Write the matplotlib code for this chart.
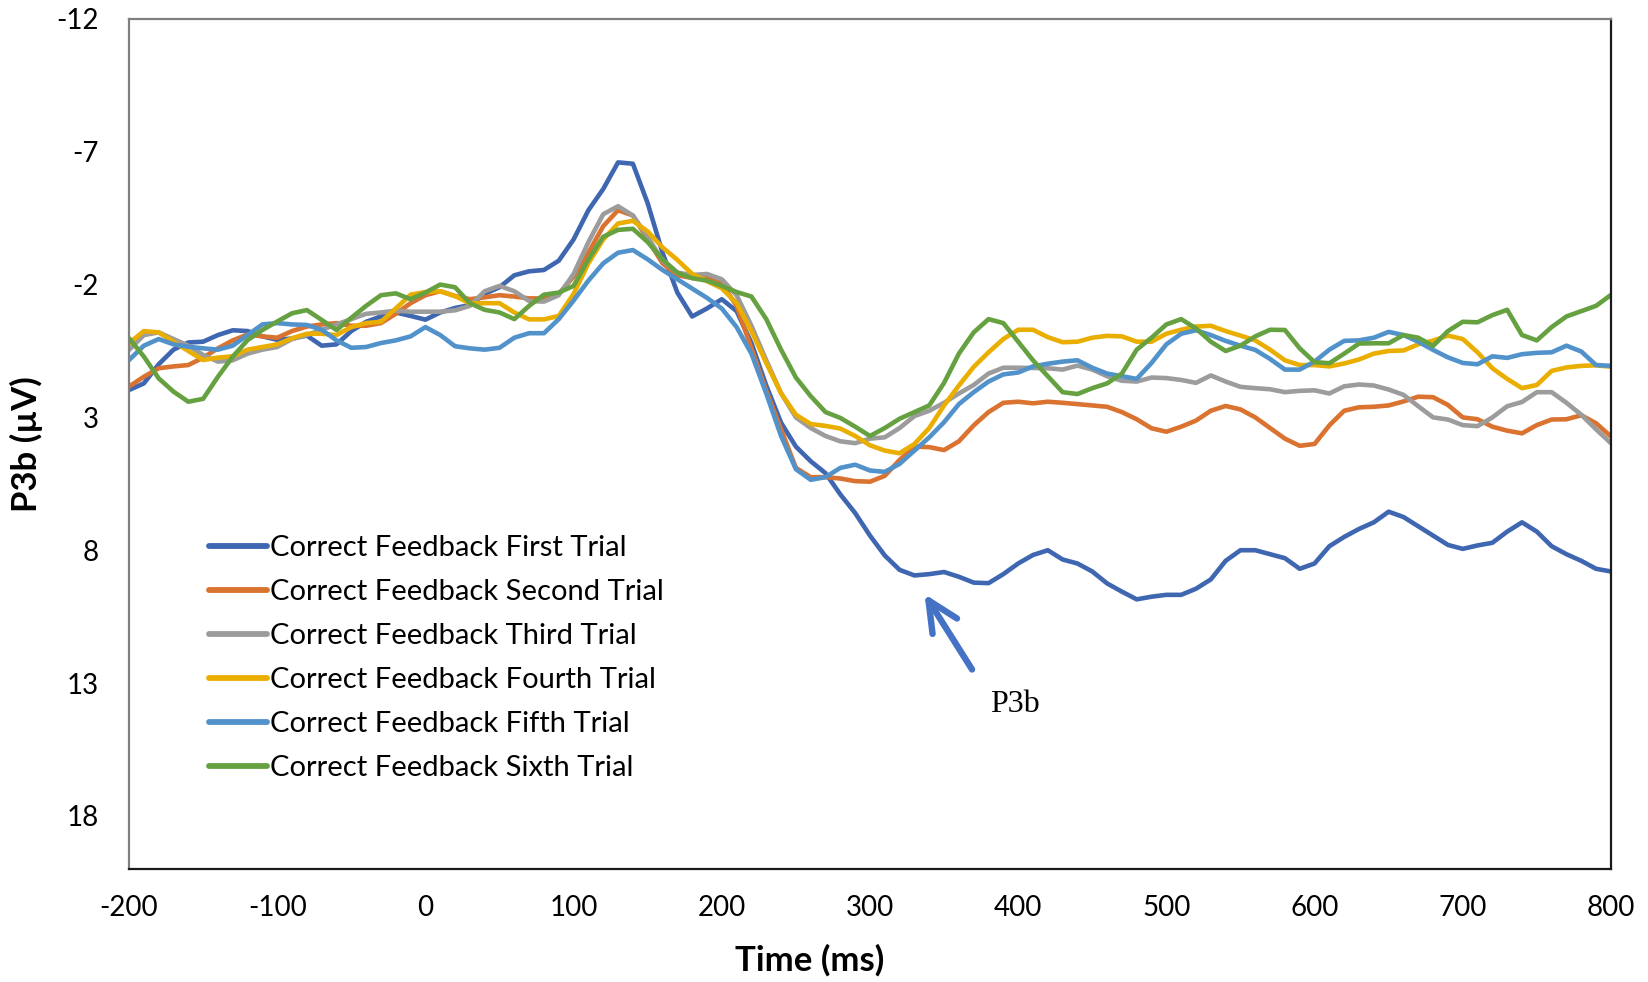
import numpy as np
import matplotlib
matplotlib.use("Agg")
import matplotlib.pyplot as plt

plt.rcParams['font.family'] = ['Lato', 'DejaVu Sans']
plt.rcParams['axes.unicode_minus'] = False

# time axis (ms), 10 ms steps
time_ms = np.arange(-200, 801, 10)

first_trial = [
    1.97, 1.72, 1.0, 0.45, 0.18, 0.15, -0.1, -0.28, -0.25, -0.05,
    0.08, 0.03, -0.08, 0.3, 0.25, -0.25, -0.6, -0.8, -0.95, -0.82,
    -0.68, -0.95, -1.12, -1.23, -1.65, -1.9, -2.35, -2.5, -2.55, -2.9,
    -3.7, -4.8, -5.6, -6.6, -6.55, -5.06, -3.2, -1.7, -0.8, -1.1,
    -1.45, -1.0, 0.2, 1.8, 3.2, 4.1, 4.65, 5.1, 5.9, 6.6,
    7.45, 8.2, 8.74, 8.95, 8.9, 8.82, 9.0, 9.22, 9.24, 8.9,
    8.5, 8.18, 8.0, 8.35, 8.5, 8.8, 9.25, 9.56, 9.85, 9.75,
    9.68, 9.68, 9.45, 9.1, 8.4, 8.0, 8.0, 8.15, 8.3, 8.7,
    8.5, 7.85, 7.5, 7.2, 6.95, 6.55, 6.75, 7.1, 7.45, 7.8,
    7.95, 7.82, 7.72, 7.3, 6.95, 7.3, 7.85, 8.15, 8.4, 8.7,
    8.8]

second_trial = [
    1.84, 1.47, 1.15, 1.08, 1.03, 0.75, 0.4, 0.1, -0.12, -0.05,
    0.0, -0.25, -0.42, -0.5, -0.55, -0.45, -0.45, -0.55, -0.9, -1.3,
    -1.6, -1.75, -1.57, -1.45, -1.52, -1.6, -1.55, -1.48, -1.48, -1.65,
    -2.3, -3.2, -4.2, -4.8, -4.6, -3.7, -2.8, -2.35, -2.25, -2.27,
    -2.05, -1.2, 0.4, 2.0, 3.45, 4.9, 5.25, 5.25, 5.3, 5.4,
    5.42, 5.2, 4.6, 4.1, 4.12, 4.23, 3.9, 3.3, 2.8, 2.45,
    2.41, 2.47, 2.41, 2.45, 2.5, 2.55, 2.6, 2.8, 3.07, 3.41,
    3.54, 3.35, 3.12, 2.75, 2.57, 2.7, 3.0, 3.4, 3.8, 4.07,
    4.0, 3.3, 2.75, 2.62, 2.6, 2.55, 2.4, 2.22, 2.24, 2.53,
    3.0, 3.07, 3.35, 3.5, 3.6, 3.29, 3.08, 3.07, 2.92, 3.22,
    3.72]

third_trial = [
    0.46, -0.1, -0.2, 0.05, 0.3, 0.65, 0.9, 0.85, 0.6, 0.45,
    0.35, 0.05, -0.1, -0.3, -0.5, -0.7, -0.9, -0.95, -1.02, -0.98,
    -0.98, -0.98, -1.03, -1.2, -1.75, -1.95, -1.75, -1.38, -1.36, -1.6,
    -2.4, -3.6, -4.65, -4.95, -4.6, -3.8, -2.9, -2.45, -2.36, -2.4,
    -2.2, -1.6, -0.45, 0.85, 2.09, 3.0, 3.4, 3.7, 3.9, 3.97,
    3.8, 3.75, 3.4, 2.95, 2.75, 2.45, 2.1, 1.78, 1.35, 1.13,
    1.13, 1.14, 1.15, 1.2, 1.05, 1.2, 1.45, 1.62, 1.65, 1.5,
    1.52, 1.59, 1.7, 1.42, 1.65, 1.85, 1.9, 1.94, 2.05, 2.0,
    1.98, 2.1, 1.83, 1.76, 1.8, 1.95, 2.15, 2.58, 3.0, 3.08,
    3.29, 3.33, 3.0, 2.58, 2.42, 2.05, 2.05, 2.45, 2.9, 3.45,
    3.97]

fourth_trial = [
    0.21, -0.25, -0.2, 0.15, 0.5, 0.84, 0.75, 0.7, 0.45, 0.35,
    0.25, 0.02, -0.15, -0.15, -0.1, -0.4, -0.55, -0.6, -1.1, -1.62,
    -1.72, -1.75, -1.57, -1.29, -1.3, -1.3, -0.95, -0.69, -0.69, -0.82,
    -1.65, -2.8, -3.7, -4.3, -4.4, -4.0, -3.4, -2.93, -2.4, -2.13,
    -1.86, -1.3, -0.25, 0.95, 2.09, 2.9, 3.25, 3.32, 3.42, 3.7,
    4.05, 4.25, 4.35, 4.0, 3.4, 2.55, 1.8, 1.1, 0.55, 0.05,
    -0.3, -0.3, -0.02, 0.17, 0.15, 0.0, -0.07, -0.05, 0.15, 0.15,
    -0.15, -0.3, -0.42, -0.45, -0.25, -0.08, 0.1, 0.45, 0.85, 1.03,
    1.03, 1.08, 0.97, 0.82, 0.6, 0.5, 0.48, 0.25, 0.11, -0.08,
    0.05, 0.55, 1.15, 1.55, 1.9, 1.78, 1.25, 1.12, 1.06, 1.04,
    1.09]

fifth_trial = [
    0.84, 0.3, 0.05, 0.25, 0.34, 0.4, 0.45, 0.3, -0.1, -0.5,
    -0.55, -0.5, -0.48, -0.3, 0.1, 0.38, 0.35, 0.2, 0.1, -0.05,
    -0.4, -0.1, 0.32, 0.4, 0.45, 0.38, 0.0, -0.17, -0.17, -0.7,
    -1.4, -2.15, -2.8, -3.2, -3.3, -2.95, -2.55, -2.2, -1.85, -1.5,
    -1.1, -0.4, 0.6, 2.1, 3.7, 4.95, 5.35, 5.25, 4.9, 4.78,
    5.0, 5.05, 4.75, 4.25, 3.75, 3.18, 2.5, 2.05, 1.65, 1.38,
    1.31, 1.08, 0.98, 0.9, 0.85, 1.13, 1.35, 1.45, 1.55, 0.95,
    0.25, -0.15, -0.28, -0.1, 0.12, 0.3, 0.46, 0.8, 1.2, 1.2,
    0.9, 0.45, 0.12, 0.1, 0.0, -0.22, -0.1, 0.15, 0.46, 0.74,
    0.95, 1.0, 0.7, 0.76, 0.62, 0.57, 0.55, 0.3, 0.52, 1.03,
    1.06]

sixth_trial = [
    0.02, 0.71, 1.53, 2.03, 2.41, 2.3, 1.47, 0.71, 0.09, -0.29,
    -0.61, -0.92, -1.04, -0.67, -0.29, -0.75, -1.2, -1.6, -1.67, -1.45,
    -1.7, -2.0, -1.9, -1.3, -1.05, -0.95, -0.7, -1.2, -1.62, -1.7,
    -1.95, -2.95, -3.8, -4.06, -4.1, -3.6, -2.95, -2.45, -2.24, -2.15,
    -1.95, -1.72, -1.55, -0.7, 0.45, 1.5, 2.2, 2.8, 3.02, 3.35,
    3.7, 3.4, 3.05, 2.8, 2.55, 1.7, 0.6, -0.2, -0.7, -0.55,
    0.15, 0.85, 1.45, 2.05, 2.12, 1.9, 1.72, 1.35, 0.45, 0.0,
    -0.5, -0.7, -0.35, 0.15, 0.5, 0.3, -0.05, -0.3, -0.29, 0.4,
    0.92, 0.96, 0.6, 0.22, 0.21, 0.21, -0.1, 0.0, 0.31, -0.25,
    -0.6, -0.58, -0.85, -1.05, -0.1, 0.1, -0.4, -0.8, -1.0, -1.2,
    -1.61]

series_labels = ["Correct Feedback First Trial", "Correct Feedback Second Trial",
                 "Correct Feedback Third Trial", "Correct Feedback Fourth Trial",
                 "Correct Feedback Fifth Trial", "Correct Feedback Sixth Trial"]
series_colors = ["#3f66b0", "#da7230", "#9c9c9c", "#e9ae00", "#5292cb", "#66a141"]

x_ticks = [-200, -100, 0, 100, 200, 300, 400, 500, 600, 700, 800]
y_ticks = [-12, -7, -2, 3, 8, 13, 18]

fig = plt.figure(figsize=(16.48, 9.82), dpi=100)
ax = fig.add_axes([0.0783, 0.1151, 0.8992, 0.8656])

all_series = [first_trial, second_trial, third_trial,
              fourth_trial, fifth_trial, sixth_trial]
for vals, lab, col in zip(all_series, series_labels, series_colors):
    ax.plot(time_ms, vals, color=col, lw=3.3, label=lab,
            solid_joinstyle='round', solid_capstyle='round')

ax.set_xlim(-200, 800)
ax.set_ylim(20, -12)
ax.set_xticks(x_ticks)
ax.set_yticks(y_ticks)
ax.set_xticklabels([str(v) for v in x_ticks])
ax.set_yticklabels([str(v) for v in y_ticks])
ax.tick_params(axis='both', length=0, labelsize=20, colors='black')
ax.tick_params(axis='y', pad=22)
ax.tick_params(axis='x', pad=19)

for side in ['left', 'top']:
    ax.spines[side].set_color('#808080')
    ax.spines[side].set_linewidth(1.6)
for side in ['right', 'bottom']:
    ax.spines[side].set_color('#1a1a1a')
    ax.spines[side].set_linewidth(1.6)

ax.set_xlabel("Time (ms)", fontsize=25, fontweight='bold')
ax.set_ylabel("P3b (µV)", fontsize=25, fontweight='bold')
ax.xaxis.set_label_coords(0.459, -0.088)
ax.yaxis.set_label_coords(-0.058, 0.5)

leg = ax.legend(loc='upper left', bbox_to_anchor=(0.054, 0.393),
                frameon=False, fontsize=21, handlelength=2.0,
                handletextpad=0.1, labelspacing=0.62,
                borderpad=0, borderaxespad=0)
for line in leg.get_lines():
    line.set_linewidth(4.2)

# P3b marker arrow
ax.annotate("", xy=(336.8, 9.65), xytext=(368.9, 12.49),
            arrowprops=dict(arrowstyle='->,head_length=1.1,head_width=0.52',
                            color='#4472c4', lw=4.6, mutation_scale=20,
                            shrinkA=0, shrinkB=0))
ax.text(397.6, 13.8, "P3b", fontsize=23, family='Liberation Serif',
        ha='center', va='center')

fig.savefig("out.png", dpi=100)
